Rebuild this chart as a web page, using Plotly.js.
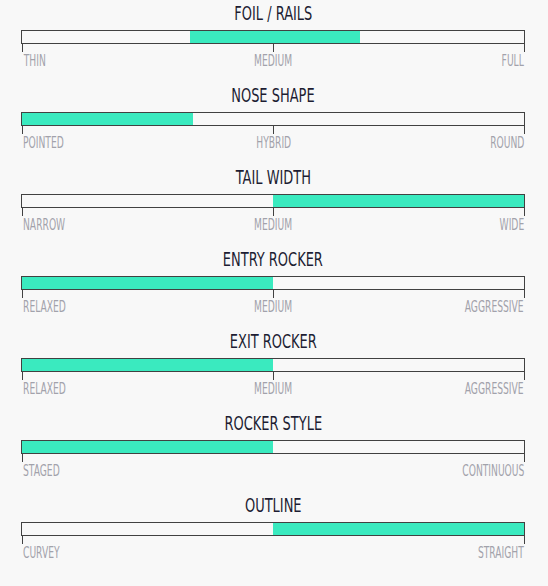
<!DOCTYPE html>
<html>
<head>
<meta charset="utf-8">
<script src="https://cdn.plot.ly/plotly-3.0.1.min.js"></script>
<style>
html,body{margin:0;padding:0;background:#f8f8f8;}
#chart{width:548px;height:586px;}
</style>
</head>
<body>
<div id="chart"></div>
<script>
// ---- data ----
const titles = ["FOIL / RAILS", "NOSE SHAPE", "TAIL WIDTH", "ENTRY ROCKER", "EXIT ROCKER", "ROCKER STYLE", "OUTLINE"];
const leftLabels = ["THIN", "POINTED", "NARROW", "RELAXED", "RELAXED", "STAGED", "CURVEY"];
const midLabels = ["MEDIUM", "HYBRID", "MEDIUM", "MEDIUM", "MEDIUM", "", ""];
const rightLabels = ["FULL", "ROUND", "WIDE", "AGGRESSIVE", "AGGRESSIVE", "CONTINUOUS", "STRAIGHT"];
const fillStart = [33.5, 0, 50, 0, 0, 0, 50];
const fillEnd = [67.3, 34, 100, 50, 50, 50, 100];

// ---- layout params ----
const W = 548, H = 586;
const firstTop = 31, barH = 12, step = 82;
const FONT = '"DejaVu Sans Condensed", "DejaVu Sans", sans-serif';
const teal = '#3aeabf';
const frame = '#414141';
const TITLE_SCALE = 0.76, LABEL_SCALE = 0.68;

const traces = [];
const layout = {
  width: W, height: H,
  margin: {l: 22, r: 24, t: 0, b: 0},
  paper_bgcolor: '#f8f8f8',
  plot_bgcolor: '#f8f8f8',
  showlegend: false,
  annotations: [],
  bargap: 0
};

titles.forEach((t, i) => {
  const n = i === 0 ? '' : String(i + 1);
  const top = firstTop + step * i;
  const bottom = top + barH;
  const d = [1 - bottom / H, 1 - top / H];
  traces.push({
    type: 'bar', orientation: 'h',
    x: [fillEnd[i] - fillStart[i]], base: [fillStart[i]], y: [0],
    width: 1,
    marker: {color: teal, line: {width: 0}},
    xaxis: 'x' + n, yaxis: 'y' + n,
    hoverinfo: 'skip'
  });
  const tv = midLabels[i] ? [0, 50, 100] : [0, 100];
  layout['xaxis' + n] = {
    domain: [0, 1], range: [0, 100], anchor: 'y' + n,
    showline: true, mirror: true, linecolor: frame, linewidth: 1,
    showgrid: false, zeroline: false,
    ticks: 'outside', tickvals: tv, ticklen: 8, tickcolor: frame, tickwidth: 1,
    showticklabels: false, fixedrange: true
  };
  layout['yaxis' + n] = {
    domain: d, range: [-0.5, 0.5], anchor: 'x' + n,
    showline: true, mirror: true, linecolor: frame, linewidth: 1,
    showgrid: false, zeroline: false, showticklabels: false, ticks: '',
    fixedrange: true
  };
  const titleY = 1 - (top - 18) / H;
  layout.annotations.push({
    text: t, xref: 'paper', yref: 'paper', x: 0.5, y: titleY,
    xanchor: 'center', yanchor: 'middle', showarrow: false,
    font: {family: FONT, size: 19, color: '#1d1d33'},
    name: 'title'
  });
  const labY = 1 - (bottom + 18) / H;
  const labFont = {family: FONT, size: 15, color: '#a2a2ab'};
  layout.annotations.push({
    text: leftLabels[i], xref: 'x' + n, yref: 'paper', x: 0, y: labY,
    xanchor: 'left', yanchor: 'middle', showarrow: false, font: labFont, xshift: -1.5, name: 'label'
  });
  if (midLabels[i]) {
    layout.annotations.push({
      text: midLabels[i], xref: 'x' + n, yref: 'paper', x: 50, y: labY,
      xanchor: 'center', yanchor: 'middle', showarrow: false, font: labFont, name: 'label'
    });
  }
  layout.annotations.push({
    text: rightLabels[i], xref: 'x' + n, yref: 'paper', x: 100, y: labY,
    xanchor: 'right', yanchor: 'middle', showarrow: false, font: labFont, xshift: 1.5, name: 'label'
  });
});

Plotly.newPlot('chart', traces, layout, {displayModeBar: false, staticPlot: true}).then(gd => {
  // condense annotation text horizontally around its anchor (reference uses a narrow font)
  const anns = gd.layout.annotations;
  const groups = gd.querySelectorAll('.annotation');
  groups.forEach(g => {
    const idx = +g.getAttribute('data-index');
    const a = anns[idx];
    const txt = g.querySelector('text.annotation-text');
    if (!txt || !a) return;
    const s = a.name === 'title' ? TITLE_SCALE : LABEL_SCALE;
    const bb = txt.getBBox();
    let ax = bb.x + bb.width / 2;
    if (a.xanchor === 'left') ax = bb.x;
    if (a.xanchor === 'right') ax = bb.x + bb.width;
    const prev = txt.getAttribute('transform') || '';
    txt.setAttribute('transform', prev + ` translate(${ax},0) scale(${s},1) translate(${-ax},0)`);
  });
});
</script>
</body>
</html>
